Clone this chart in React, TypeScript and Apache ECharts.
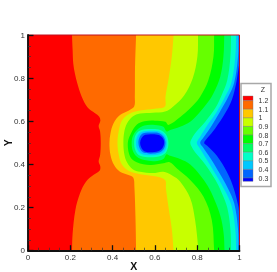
import React, { useEffect, useRef } from "react";
import * as echarts from "echarts";

type Pt = number[];

const bandColors = ["#ff0000", "#ff6a00", "#ffc800", "#c8ff00", "#66ff00", "#00ff00", "#00ff66", "#00ffc8", "#00c8ff", "#0066ff", "#0000ff"];
const levelLabels = ["1.2", "1.1", "1", "0.9", "0.8", "0.7", "0.6", "0.5", "0.4", "0.3"];

// Each contour runs from the top edge to the bottom edge; the area to its right is below that level.
const contour12: Pt[] = [[0.208,1],[0.211,0.93],[0.214,0.868],[0.222,0.82],[0.233,0.776],[0.254,0.714],[0.281,0.665],[0.317,0.637],[0.337,0.621],[0.342,0.603],[0.334,0.578],[0.341,0.552],[0.344,0.498],[0.341,0.444],[0.334,0.413],[0.342,0.389],[0.338,0.371],[0.309,0.351],[0.274,0.32],[0.246,0.266],[0.224,0.189],[0.211,0.08],[0.208,0]];
const contour11: Pt[] = [[0.511,1],[0.506,0.853],[0.505,0.714],[0.502,0.668],[0.475,0.649],[0.435,0.629],[0.404,0.59],[0.39,0.544],[0.385,0.498],[0.39,0.444],[0.407,0.397],[0.435,0.366],[0.475,0.351],[0.498,0.338],[0.503,0.297],[0.508,0.158],[0.511,0]];
const contour10: Pt[] = [[0.688,1],[0.68,0.9],[0.664,0.791],[0.65,0.714],[0.647,0.668],[0.6,0.658],[0.53,0.65],[0.48,0.635],[0.445,0.605],[0.43,0.56],[0.423,0.5],[0.43,0.44],[0.445,0.398],[0.48,0.368],[0.53,0.355],[0.6,0.345],[0.648,0.328],[0.652,0.29],[0.664,0.204],[0.68,0.1],[0.688,0]];
const contour09: Pt[] = [[0.804,1],[0.801,0.9],[0.779,0.8],[0.738,0.72],[0.688,0.67],[0.648,0.645],[0.59,0.64],[0.53,0.636],[0.495,0.622],[0.468,0.59],[0.455,0.55],[0.451,0.5],[0.455,0.45],[0.468,0.41],[0.495,0.378],[0.53,0.366],[0.59,0.36],[0.64,0.366],[0.68,0.35],[0.72,0.32],[0.767,0.243],[0.79,0.142],[0.806,0]];
const contour08: Pt[] = [[0.88,1],[0.877,0.9],[0.853,0.791],[0.814,0.714],[0.767,0.66],[0.72,0.62],[0.664,0.583],[0.65,0.598],[0.6,0.603],[0.55,0.6],[0.515,0.585],[0.49,0.55],[0.472,0.5],[0.483,0.436],[0.514,0.41],[0.577,0.397],[0.64,0.405],[0.67,0.41],[0.703,0.382],[0.767,0.328],[0.83,0.25],[0.869,0.142],[0.88,0]];
const contour07: Pt[] = [[0.928,1],[0.924,0.9],[0.909,0.807],[0.877,0.73],[0.852,0.69],[0.814,0.644],[0.767,0.598],[0.719,0.575],[0.672,0.56],[0.655,0.553],[0.64,0.575],[0.6,0.583],[0.55,0.58],[0.515,0.56],[0.495,0.53],[0.49,0.5],[0.495,0.465],[0.515,0.435],[0.55,0.42],[0.6,0.415],[0.64,0.425],[0.655,0.447],[0.672,0.44],[0.719,0.425],[0.767,0.4],[0.814,0.35],[0.85,0.3],[0.88,0.24],[0.91,0.16],[0.925,0.08],[0.929,0]];
const contour06: Pt[] = [[0.96,1],[0.957,0.9],[0.942,0.79],[0.915,0.72],[0.885,0.66],[0.838,0.598],[0.79,0.544],[0.772,0.515],[0.767,0.5],[0.772,0.485],[0.79,0.456],[0.838,0.4],[0.885,0.33],[0.915,0.27],[0.942,0.2],[0.957,0.1],[0.96,0]];
const contour05: Pt[] = [[0.984,1],[0.98,0.9],[0.962,0.78],[0.93,0.71],[0.89,0.64],[0.85,0.585],[0.812,0.525],[0.798,0.5],[0.812,0.475],[0.85,0.415],[0.89,0.35],[0.93,0.28],[0.962,0.21],[0.98,0.1],[0.984,0]];
const contour04: Pt[] = [[0.995,1],[0.993,0.9],[0.975,0.78],[0.945,0.71],[0.905,0.64],[0.865,0.575],[0.828,0.522],[0.814,0.5],[0.828,0.478],[0.865,0.425],[0.905,0.36],[0.945,0.29],[0.975,0.22],[0.993,0.1],[0.995,0]];
const contour03: Pt[] = [[1,0.86],[0.985,0.78],[0.964,0.7],[0.932,0.637],[0.885,0.567],[0.848,0.522],[0.833,0.5],[0.846,0.488],[0.893,0.44],[0.94,0.366],[0.97,0.297],[0.995,0.204],[1,0.15]];

// Closed rings round the low-value pocket.
const ring06: Pt[] = [[0.502,0.5],[0.508,0.535],[0.53,0.557],[0.58,0.564],[0.625,0.56],[0.652,0.54],[0.664,0.5],[0.655,0.46],[0.63,0.44],[0.58,0.433],[0.53,0.44],[0.508,0.465]];
const ring05: Pt[] = [[0.511,0.5],[0.517,0.53],[0.537,0.55],[0.585,0.556],[0.622,0.552],[0.646,0.534],[0.656,0.5],[0.648,0.465],[0.625,0.448],[0.58,0.442],[0.538,0.448],[0.517,0.47]];
const ring04: Pt[] = [[0.522,0.5],[0.528,0.527],[0.545,0.544],[0.588,0.548],[0.62,0.545],[0.641,0.528],[0.65,0.5],[0.641,0.47],[0.62,0.455],[0.58,0.45],[0.545,0.455],[0.528,0.475]];
const ring03: Pt[] = [[0.53,0.5],[0.537,0.522],[0.555,0.537],[0.59,0.54],[0.618,0.536],[0.637,0.522],[0.644,0.5],[0.635,0.475],[0.615,0.461],[0.58,0.456],[0.55,0.461],[0.535,0.48]];

const wholeField: Pt[] = [[0,1],[1,1],[1,0],[0,0]];
const rightEdge: Pt[] = [[1.02,-0.02],[1.02,1.02]];
const withEdge = (c: Pt[]) => [[c[0][0], 1.02], ...c, [c[c.length - 1][0], -0.02], ...rightEdge];

const bandShapes: Pt[][][] = [
  [wholeField],
  [withEdge(contour12)],
  [withEdge(contour11)],
  [withEdge(contour10)],
  [withEdge(contour09)],
  [withEdge(contour08)],
  [withEdge(contour07)],
  [withEdge(contour06), ring06],
  [withEdge(contour05), ring05],
  [withEdge(contour04), ring04],
  [contour03, ring03],
];

const FONT = '"Liberation Sans", Arial, sans-serif';
const GRID = { left: 28, top: 35, right: 239.5, bottom: 250.7 };
const LEG = { x: 241, y: 83.5, w: 30, h: 103, sx: 243, sw: 10, top: 96, first: 100.7, step: 8.59, bottom: 181.3, tx: 258.6 };

function legendGraphics() {
  const els: any[] = [
    { type: "rect", shape: { x: LEG.x, y: LEG.y, width: LEG.w, height: LEG.h }, style: { fill: "#fff", stroke: "#a8a8a8", lineWidth: 1.5 }, z: 10 },
    { type: "text", x: 263, y: 89, style: { text: "Z", font: `7px ${FONT}`, fill: "#333", align: "center", verticalAlign: "middle" }, z: 11 },
  ];
  bandColors.forEach((fill, i) => {
    const y0 = i === 0 ? LEG.top : LEG.first + (i - 1) * LEG.step;
    const y1 = i === bandColors.length - 1 ? LEG.bottom : LEG.first + i * LEG.step;
    els.push({ type: "rect", shape: { x: LEG.sx, y: y0, width: LEG.sw, height: y1 - y0 }, style: { fill, stroke: "#777", lineWidth: 0.4 }, z: 11 });
  });
  levelLabels.forEach((text, i) => {
    els.push({ type: "text", x: LEG.tx, y: LEG.first + i * LEG.step, style: { text, font: `7px ${FONT}`, fill: "#333", align: "left", verticalAlign: "middle" }, z: 11 });
  });
  return els;
}

const axisCommon = (name: string) => ({
  type: "value",
  min: 0,
  max: 1,
  interval: 0.2,
  name,
  nameLocation: "middle",
  nameMoveOverlap: false,
  nameTextStyle: { fontFamily: FONT, fontWeight: "bold", fontSize: 10.5, color: "#111" },
  z: 5,
  splitLine: { show: false },
  axisLine: { show: true, lineStyle: { color: "#111", width: 1.8 } },
  axisTick: { show: true, inside: true, length: 5.5, lineStyle: { color: "#111", width: 1.3 } },
  minorTick: { show: true, splitNumber: 4, length: 3, lineStyle: { color: "#333", width: 0.7 } },
  axisLabel: { fontFamily: FONT, fontSize: 8, color: "#333", margin: 3, hideOverlap: false },
});

export default function App() {
  const ref = useRef<HTMLDivElement>(null);
  useEffect(() => {
    const chart = echarts.init(ref.current!, undefined, { renderer: "svg" });
    chart.setOption({
      animation: false,
      backgroundColor: "#fff",
      grid: {
        outerBoundsMode: "none",
        left: GRID.left,
        top: GRID.top,
        width: GRID.right - GRID.left,
        height: GRID.bottom - GRID.top,
        show: true,
        borderColor: "#c01020",
        borderWidth: 1,
        backgroundColor: "transparent",
        z: 4,
      },
      xAxis: { ...axisCommon("X"), nameGap: 10 },
      yAxis: { ...axisCommon("Y"), nameGap: 15, nameRotate: 90 },
      series: [
        {
          type: "custom",
          coordinateSystem: "cartesian2d",
          z: 1,
          clip: true,
          data: bandColors.map((_, i) => [i]),
          encode: { x: [], y: [] },
          renderItem: (params: any, api: any) => {
            const i = params.dataIndex;
            return {
              type: "group",
              children: bandShapes[i].map((shape) => ({
                type: "polygon",
                shape: { points: shape.map((p) => api.coord(p)), smooth: i === 0 ? 0 : 0.35 },
                style: { fill: bandColors[i], stroke: null },
              })),
            };
          },
        },
      ],
      graphic: legendGraphics(),
    });
    return () => chart.dispose();
  }, []);
  return <div ref={ref} style={{ position: "absolute", left: 0, top: 0, width: 277, height: 272, filter: "blur(0.35px)" }} />;
}
